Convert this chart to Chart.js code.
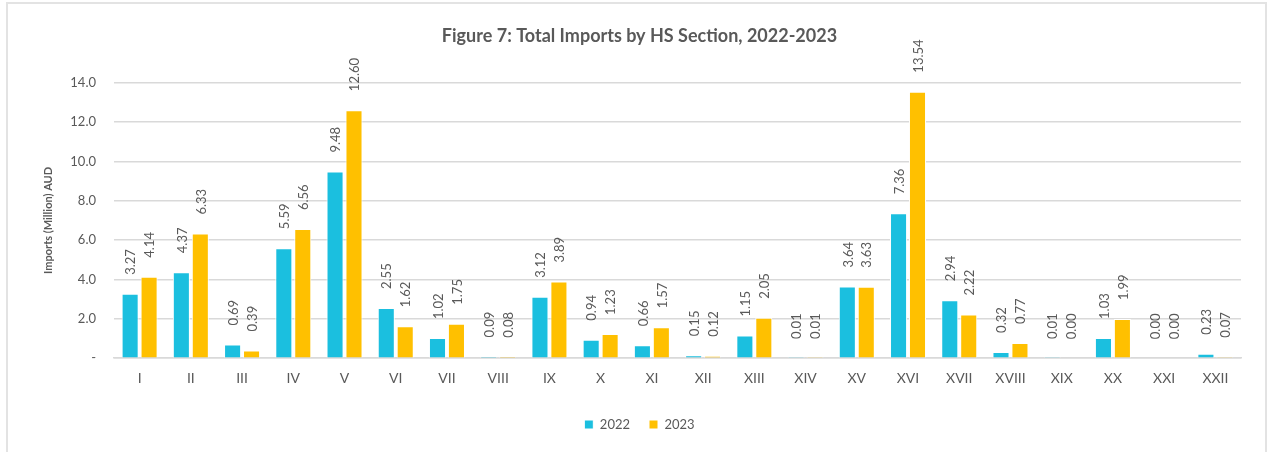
<!DOCTYPE html>
<html>
<head>
<meta charset="utf-8">
<script src="https://cdn.jsdelivr.net/npm/chart.js@4"></script>
<style>
html,body{margin:0;padding:0;background:#fff;}
#frame{position:absolute;left:6px;top:2px;width:1261px;height:480px;border:2px solid #e3e3e3;box-sizing:border-box;}
#wrap{position:absolute;left:0;top:0;width:1273px;height:452px;}
</style>
</head>
<body>
<div id="frame"></div>
<div id="wrap"><canvas id="c" width="1273" height="452"></canvas></div>
<script>
const categories = ["I","II","III","IV","V","VI","VII","VIII","IX","X","XI","XII","XIII","XIV","XV","XVI","XVII","XVIII","XIX","XX","XXI","XXII"];
const imports2022 = [3.27,4.37,0.69,5.59,9.48,2.55,1.02,0.09,3.12,0.94,0.66,0.15,1.15,0.01,3.64,7.36,2.94,0.32,0.01,1.03,0.00,0.23];
const imports2023 = [4.14,6.33,0.39,6.56,12.60,1.62,1.75,0.08,3.89,1.23,1.57,0.12,2.05,0.01,3.63,13.54,2.22,0.77,0.00,1.99,0.00,0.07];
const seriesNames = ["2022","2023"];

const FONT = "Lato, 'Open Sans', sans-serif";
const TXT = "#595959";

const labelPlugin = {
  id: 'rotLabels',
  afterDatasetsDraw(chart) {
    const ctx = chart.ctx;
    ctx.save();
    ctx.font = "13px " + FONT;
    ctx.fillStyle = TXT;
    ctx.textAlign = 'left';
    ctx.textBaseline = 'middle';
    chart.data.datasets.forEach((ds, di) => {
      const meta = chart.getDatasetMeta(di);
      meta.data.forEach((bar, i) => {
        const v = ds.data[i];
        ctx.save();
        ctx.translate(bar.x + 1, bar.y - 19);
        ctx.rotate(-Math.PI / 2);
        ctx.fillText(v.toFixed(2), 0, 0);
        ctx.restore();
      });
    });
    ctx.restore();
  }
};

new Chart(document.getElementById('c'), {
  type: 'bar',
  data: {
    labels: categories,
    datasets: [
      { label: seriesNames[0], data: imports2022, backgroundColor: '#1BBFDF', borderColor: '#ffffff', borderWidth: 1, barPercentage: 0.9, categoryPercentage: 0.74 },
      { label: seriesNames[1], data: imports2023, backgroundColor: '#FFC000', borderColor: '#ffffff', borderWidth: 1, barPercentage: 0.9, categoryPercentage: 0.74 }
    ]
  },
  options: {
    responsive: false,
    animation: false,
    layout: { padding: { left: 38, right: 32, top: 20, bottom: 11 } },
    plugins: {
      title: {
        display: true,
        text: 'Figure 7: Total Imports by HS Section, 2022-2023',
        color: TXT,
        font: { family: FONT, size: 18, weight: 'bold' },
        padding: { top: 5, bottom: 36 }
      },
      legend: {
        position: 'bottom',
        labels: { color: TXT, font: { family: FONT, size: 13 }, boxWidth: 9, boxHeight: 9, padding: 19 }
      },
      tooltip: { enabled: false }
    },
    scales: {
      x: {
        grid: { display: false, drawTicks: false },
        border: { display: true, color: '#d9d9d9', width: 1.5 },
        ticks: { color: TXT, font: { family: FONT, size: 14 }, padding: 12 }
      },
      y: {
        min: 0, max: 14,
        grid: { color: '#d9d9d9', lineWidth: 1.5, drawTicks: false },
        border: { display: false },
        ticks: {
          stepSize: 2, color: TXT, font: { family: FONT, size: 13 }, padding: 18,
          callback: v => v === 0 ? '-' : v.toFixed(1)
        },
        title: { display: true, text: 'Imports (Million) AUD', color: TXT, font: { family: FONT, size: 11, weight: 'bold' }, padding: { bottom: 14 } },
        afterFit: s => { s.width = 114 - 38; }
      }
    }
  },
  plugins: [labelPlugin]
});
</script>
</body>
</html>
